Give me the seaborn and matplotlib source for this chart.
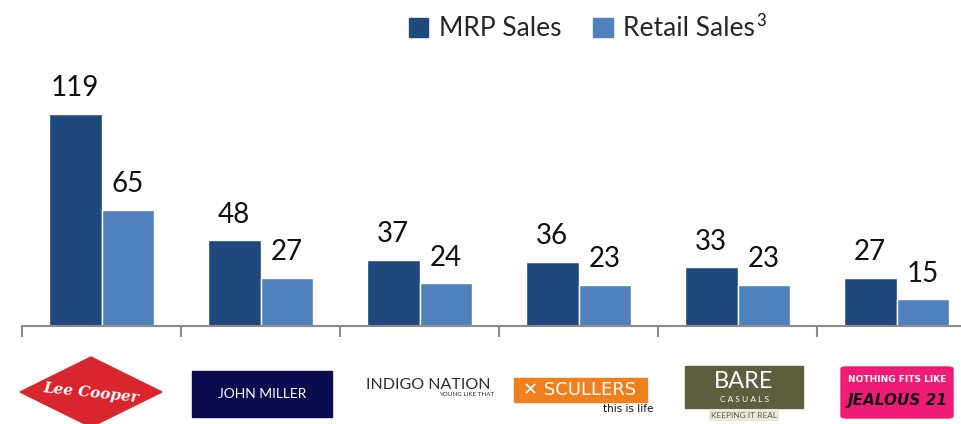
import matplotlib.pyplot as plt
import matplotlib.patches as mpatches
import numpy as np
import pandas as pd
import seaborn as sns

brands = ["Lee Cooper", "John Miller", "Indigo Nation", "Scullers", "Bare Casuals", "Jealous 21"]
mrp_sales = [119, 48, 37, 36, 33, 27]
retail_sales = [65, 27, 24, 23, 23, 15]
series_names = ["MRP Sales", "Retail Sales"]
colors = ["#1F497D", "#4F81BD"]

df = pd.DataFrame({
    "brand": brands * 2,
    "value": mrp_sales + retail_sales,
    "series": [series_names[0]] * len(brands) + [series_names[1]] * len(brands),
})

sns.set_theme(style="white")
plt.rcParams["font.family"] = ["Lato", "DejaVu Sans"]

W, H = 961, 424
fig = plt.figure(figsize=(W / 100, H / 100), dpi=100)
ax = fig.add_axes([22 / W, 98 / H, (W - 22) / W, (326 - 60) / H])

sns.barplot(data=df, x="brand", y="value", hue="series", palette=colors,
            width=0.66, gap=0, saturation=1, legend=False, ax=ax)

for cont in ax.containers:
    ax.bar_label(cont, padding=9, fontsize=20, color="#111111")

ax.set_xlabel("")
ax.set_ylabel("")
ax.set_yticks([])
ax.set_xticks(range(len(brands)))
ax.set_xticklabels([])
ax.set_xticks(np.arange(-0.5, len(brands), 1), minor=True)
ax.set_xlim(-0.5, -0.5 + (W - 22) / 159)
ax.set_ylim(0, 149)
ax.tick_params(axis="x", which="major", length=0, bottom=False)
ax.tick_params(axis="x", which="minor", bottom=True, length=8, width=1.5,
               color="#8C8C8C", direction="out")
for s in ["left", "top", "right"]:
    ax.spines[s].set_visible(False)
ax.spines["bottom"].set_color("#8C8C8C")
ax.spines["bottom"].set_linewidth(1.5)

# legend
handles = [mpatches.Patch(color=c, label=n) for c, n in zip(colors, series_names)]
fig.legend(handles=handles, loc="center", bbox_to_anchor=(582 / W, 1 - 29 / H), ncol=2,
           frameon=False, fontsize=19, handlelength=0.75, handleheight=0.75,
           handletextpad=0.4, columnspacing=1.2)
fig.text(756 / W, 1 - 21 / H, "3", fontsize=12, ha="left", va="center", color="#111111")


def fx(px):
    return px / W


def fy(py):
    return 1 - py / H


# brand logos (drawn as text with coloured boxes)
# Lee Cooper: red diamond
diamond = mpatches.Polygon([(fx(20), fy(392)), (fx(91), fy(357)), (fx(162), fy(392)), (fx(91), fy(427))],
                           closed=True, transform=fig.transFigure, color="#D9262E", zorder=1)
fig.patches.append(diamond)
fig.text(fx(91), fy(393), brands[0], fontsize=11, color="white", ha="center", va="center",
         style="italic", weight="bold", family=["DejaVu Serif Condensed", "DejaVu Serif"], rotation=-6)

# John Miller
jm = mpatches.Rectangle((fx(192), fy(417)), fx(140), 46 / H, transform=fig.transFigure,
                        color="#0B0B4F", zorder=1)
fig.patches.append(jm)
fig.text(fx(262), fy(394), brands[1].upper(), fontsize=10, color="white", ha="center", va="center")

# Indigo Nation
fig.text(fx(428), fy(385), brands[2].upper(), fontsize=11.5, color="#2B2B3A", ha="center", va="center")
fig.text(fx(494), fy(395), "YOUNG LIKE THAT", fontsize=4.5, color="#2B2B3A", ha="right", va="center")

# Scullers
sc = mpatches.Rectangle((fx(514), fy(402)), fx(133), 24 / H, transform=fig.transFigure,
                        color="#F07F1E", zorder=1)
fig.patches.append(sc)
fig.text(fx(580), fy(390), "✕ " + brands[3].upper(), fontsize=13, color="white", ha="center", va="center",
         family=["DejaVu Sans Condensed", "DejaVu Sans"])
fig.text(fx(628), fy(409), "this is life", fontsize=7.5, color="#111111", ha="center", va="center",
         family=["Liberation Sans Narrow", "DejaVu Sans"])

# Bare Casuals
bc = mpatches.Rectangle((fx(685), fy(408)), fx(118), 42 / H, transform=fig.transFigure,
                        color="#5E5E3E", zorder=1)
fig.patches.append(bc)
fig.text(fx(744), fy(381), "BARE", fontsize=17, color="white", ha="center", va="center")
fig.text(fx(744), fy(399), "C A S U A L S", fontsize=6, color="white", ha="center", va="center")
fig.text(fx(744), fy(415), "KEEPING IT REAL", fontsize=6, color="#5E5E3E", ha="center", va="center",
         bbox=dict(boxstyle="square,pad=0.25", fc="#E8E8DC", ec="none"))

# Jealous 21
jl = mpatches.FancyBboxPatch((fx(841), fy(418)), fx(112), 51 / H, transform=fig.transFigure,
                             boxstyle="round,pad=0,rounding_size=0.005", color="#EE1C74", zorder=1)
fig.patches.append(jl)
fig.text(fx(897), fy(380), "NOTHING FITS LIKE", fontsize=6.5, color="white", ha="center", va="center",
         weight="bold", family=["DejaVu Sans Condensed", "DejaVu Sans"])
fig.text(fx(897), fy(400), brands[5].upper(), fontsize=11, color="#111111", ha="center", va="center",
         weight="bold", style="italic", family=["DejaVu Sans Condensed", "DejaVu Sans"])

fig.savefig("out.png", dpi=100)
